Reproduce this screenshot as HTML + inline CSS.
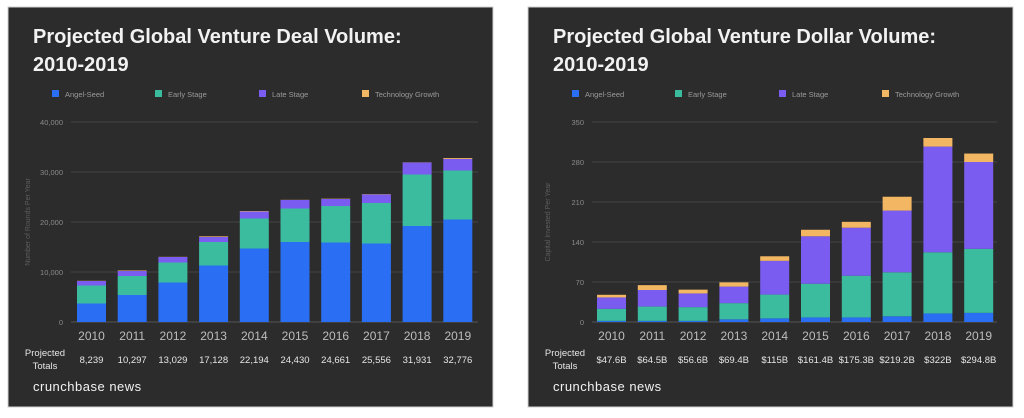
<!DOCTYPE html>
<html><head><meta charset="utf-8">
<style>
html,body{margin:0;padding:0;background:#fff;width:1024px;height:418px;overflow:hidden;font-family:"Liberation Sans",sans-serif}
svg text{font-family:"Liberation Sans",sans-serif}
</style></head>
<body>
<svg id="root" width="1024" height="418" xmlns="http://www.w3.org/2000/svg"></svg>
<script>
const years=["2010","2011","2012","2013","2014","2015","2016","2017","2018","2019"];
// Deal volume (segment sizes, thousands)
const dealAngel=[3.7,5.4,7.9,11.3,14.7,16.0,15.9,15.7,19.2,20.5];
const dealEarly=[3.6,3.8,4.0,4.7,6.0,6.7,7.3,8.1,10.3,9.8];
const dealLate=[0.9,1.0,1.1,1.0,1.4,1.7,1.4,1.7,2.4,2.3];
const dealTech=[0.04,0.1,0.03,0.13,0.09,0.03,0.06,0.06,0.03,0.18];
const dealTotals=["8,239","10,297","13,029","17,128","22,194","24,430","24,661","25,556","31,931","32,776"];
const dealTicks=[0,10000,20000,30000,40000];
const dealTickLabels=["0","10,000","20,000","30,000","40,000"];
// Dollar volume ($B)
const usdAngel=[2,2,2,4.7,6.4,8,8,10,15,16];
const usdEarly=[21,25,24,28.3,41.6,59,73,77,107,112];
const usdLate=[20,29,24,29,59,83,84,108,185,152];
const usdTech=[4.6,8.5,6.6,7.4,8,11.4,10.3,24.2,15,14.8];
const usdTotals=["$47.6B","$64.5B","$56.6B","$69.4B","$115B","$161.4B","$175.3B","$219.2B","$322B","$294.8B"];
const usdTicks=[0,70,140,210,280,350];
const usdTickLabels=["0","70","140","210","280","350"];

const colors={angel:"#2a6ff3",early:"#3cbc9f",late:"#7a5cf0",tech:"#f3b763"};
const NS="http://www.w3.org/2000/svg";
const root=document.getElementById('root');
function mk(tag,attrs,parent,text){const e=document.createElementNS(NS,tag);for(const k in attrs)e.setAttribute(k,attrs[k]);if(text!==undefined)e.textContent=text;(parent||root).appendChild(e);return e;}

function panel(cfg){
  const g=mk('g',{});
  
  
  const bg=mk('rect',{x:cfg.px,y:7,width:485,height:400,fill:"#2c2c2c",stroke:"#d0d0d0","stroke-width":1},g);
  
  
  const t1=mk('text',{x:cfg.px+25,y:43,fill:"#f2f2f2","font-size":20,"font-weight":"bold"},g,cfg.title);
  
  
  const t2=mk('text',{x:cfg.px+25,y:71,fill:"#f2f2f2","font-size":20,"font-weight":"bold"},g,"2010-2019");
  
  
  const leg=[["Angel-Seed",colors.angel,44],["Early Stage",colors.early,147],["Late Stage",colors.late,251],["Technology Growth",colors.tech,354]];
  leg.forEach(l=>{
    const lg=mk('g',{},g);
    
    
    mk('rect',{x:cfg.px+l[2],y:90,width:7,height:7,fill:l[1]},lg);
    mk('text',{x:cfg.px+l[2]+13,y:97,fill:"#9a9a9a","font-size":7.5},lg,l[0]);
  });
  const y0=322,ytop=122,max=cfg.ticks[cfg.ticks.length-1];
  const ys=v=>y0-(v/max)*(y0-ytop);
  cfg.ticks.forEach((t,i)=>{
    if(i>0){const gl=mk('line',{x1:cfg.gx0,x2:cfg.gx1,y1:ys(t),y2:ys(t),stroke:"#444","stroke-width":1},g);
    }
    const tl=mk('text',{x:cfg.gx0-8,y:ys(t)+3,fill:"#8a8a8a","font-size":7.5,"text-anchor":"end"},g,cfg.tickLabels[i]);
    
  });
  const base=mk('line',{x1:cfg.gx0,x2:cfg.gx1,y1:y0,y2:y0,stroke:"#555","stroke-width":1},g);
  
  const yt=mk('text',{x:0,y:0,fill:"#5e5e5e","font-size":7,"text-anchor":"middle",transform:`translate(${cfg.px+22},222) rotate(-90)`},g,cfg.yTitle);
  
  const step=cfg.step,bw=29;
  years.forEach((yr,i)=>{
    const x=cfg.bx0+i*step;
    let acc=0;
    cfg.series.forEach(s=>{
      const v=s.vals[i];
      const r=mk('rect',{x:x,y:ys(acc+v),width:bw,height:ys(acc)-ys(acc+v),fill:s.color},g);
      
      
      acc+=v;
    });
    const xl=mk('text',{x:x+bw/2,y:340,fill:"#bdbdbd","font-size":12,"text-anchor":"middle"},g,yr);
    
    const tv=mk('text',{x:x+bw/2,y:363,fill:"#e6e6e6","font-size":9.5,"text-anchor":"middle"},g,cfg.totals[i]);
    
  });
  const p1=mk('text',{x:cfg.px+37,y:356,fill:"#e6e6e6","font-size":9.5,"text-anchor":"middle"},g,"Projected");
  
  mk('text',{x:cfg.px+37,y:369,fill:"#e6e6e6","font-size":9.5,"text-anchor":"middle"},g,"Totals");
  const cb=mk('text',{x:cfg.px+25,y:391,fill:"#f2f2f2","font-size":13,"letter-spacing":"0.5"},g,"crunchbase news");
  
}

panel({name:"deal-volume-chart",px:8,title:"Projected Global Venture Deal Volume:",gx0:71,gx1:478,bx0:77,step:40.7,
  ticks:dealTicks,tickLabels:dealTickLabels,totals:dealTotals,yTitle:"Number of Rounds Per Year",
  series:[{key:"angel",vals:dealAngel.map(v=>v*1000),color:colors.angel},{key:"early",vals:dealEarly.map(v=>v*1000),color:colors.early},{key:"late",vals:dealLate.map(v=>v*1000),color:colors.late},{key:"tech",vals:dealTech.map(v=>v*1000),color:colors.tech}]});
panel({name:"dollar-volume-chart",px:528,title:"Projected Global Venture Dollar Volume:",gx0:592,gx1:997,bx0:597,step:40.8,
  ticks:usdTicks,tickLabels:usdTickLabels,totals:usdTotals,yTitle:"Capital Invested Per Year",
  series:[{key:"angel",vals:usdAngel,color:colors.angel},{key:"early",vals:usdEarly,color:colors.early},{key:"late",vals:usdLate,color:colors.late},{key:"tech",vals:usdTech,color:colors.tech}]});
</script>
</body></html>
